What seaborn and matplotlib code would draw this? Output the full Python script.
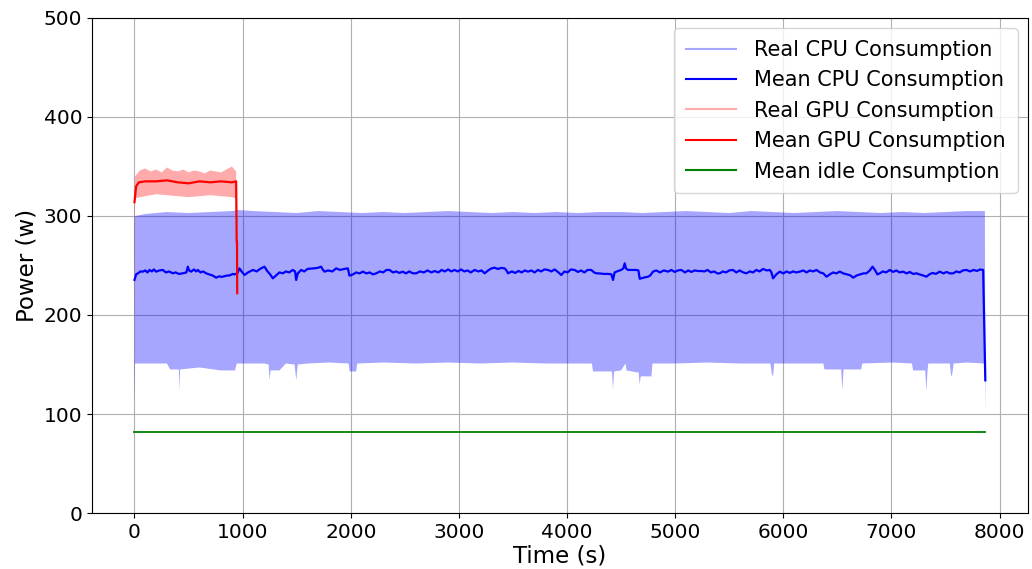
import numpy as np
import pandas as pd
import matplotlib
matplotlib.use("Agg")
import matplotlib.pyplot as plt
from matplotlib.lines import Line2D
import seaborn as sns

# ---- data ----
# Real CPU consumption envelope (upper edge / lower edge of the dense oscillation)
cpu_up_t = [0, 5, 100, 300, 500, 700, 900, 960, 1100, 1300, 1500, 1700, 1900, 2100, 2300,
            2500, 2700, 2900, 3100, 3300, 3500, 3700, 3900, 4100, 4300, 4500, 4700, 4900,
            5100, 5300, 5500, 5700, 5900, 6100, 6300, 6500, 6700, 6900, 7100, 7300, 7500,
            7700, 7864, 7867]
cpu_up_v = [300, 300, 302, 304, 303, 304, 305, 306, 305, 304, 303, 305, 304, 303, 304,
            303, 304, 305, 304, 303, 304, 303, 304, 303, 304, 304, 303, 304,
            305, 304, 303, 305, 304, 303, 304, 305, 304, 303, 304, 303, 304,
            305, 305, 180]
cpu_lo_t = [0, 5, 100, 200, 300, 330, 400, 410, 416, 422, 600, 800, 930, 945, 1000, 1100,
            1200, 1240, 1249, 1258, 1340, 1400, 1480, 1496, 1510, 1600, 1800, 1980, 1989,
            2050, 2060, 2300, 2600, 2900, 3200, 3500, 3800, 4100, 4230, 4240, 4415, 4425,
            4435, 4500, 4540, 4550, 4650, 4662, 4671, 4682, 4733, 4780, 4790, 5000, 5300,
            5600, 5880, 5895, 5905, 5915, 6100, 6370, 6380, 6535, 6546, 6557, 6720, 6730,
            7000, 7190, 7200, 7312, 7323, 7334, 7340, 7540, 7550, 7555, 7562, 7575, 7700,
            7862, 7869]
cpu_lo_v = [107, 151, 151, 151, 151, 145, 145, 145, 124, 145, 147, 144, 144, 151, 151, 151,
            151, 150, 134, 144, 144, 151, 150, 134, 150, 151, 152, 151, 143,
            143, 151, 152, 151, 152, 151, 152, 151, 151, 151, 143, 143, 125,
            143, 144, 151, 144, 142, 142, 130, 138, 138, 138, 151, 151, 152,
            151, 151, 140, 138, 151, 151, 151, 145, 145, 124, 145, 145, 151,
            152, 151, 144, 144, 123, 144, 151, 151, 140, 138, 140, 151, 152,
            151, 100]

# Mean CPU consumption
cpu_mean_t = [0, 15, 31, 55, 77, 100, 120, 139, 160, 180, 200, 230, 262, 290, 320, 355, 380,
              410, 447, 480, 493, 505, 524, 550, 570, 586, 610, 635, 663, 690, 720, 756, 780,
              810, 848, 880, 910, 925, 950, 971, 990, 1018, 1050, 1095, 1130, 1160, 1202,
              1230, 1255, 1279, 1310, 1340, 1372, 1400, 1430, 1464, 1485, 1495, 1510, 1541,
              1570, 1600, 1649, 1690, 1726, 1740, 1757, 1790, 1830, 1865, 1900, 1940, 1973,
              1988, 2020, 2050, 2080, 2112, 2145, 2175, 2205, 2235, 2270, 2300, 2330, 2358,
              2390, 2420, 2450, 2481, 2510, 2540, 2575, 2604, 2640, 2675, 2710, 2745, 2775,
              2810, 2840, 2870, 2900, 2930, 2960, 2990, 3020, 3050, 3080, 3110, 3145, 3180,
              3210, 3238, 3270, 3300, 3330, 3360, 3390, 3423, 3440, 3454, 3490, 3520, 3550,
              3580, 3610, 3639, 3670, 3700, 3730, 3760, 3790, 3824, 3855, 3885, 3915, 3947,
              3975, 4005, 4035, 4070, 4100, 4130, 4160, 4190, 4224, 4250, 4271, 4300, 4340,
              4380, 4410, 4425, 4440, 4471, 4500, 4520, 4533, 4545, 4564, 4600, 4641, 4660,
              4672, 4700, 4749, 4770, 4795, 4825, 4860, 4895, 4934, 4965, 4995, 5025, 5057,
              5090, 5120, 5150, 5180, 5212, 5242, 5270, 5300, 5330, 5360, 5390, 5412, 5440,
              5470, 5500, 5535, 5565, 5595, 5630, 5659, 5690, 5720, 5750, 5780, 5813, 5845,
              5875, 5890, 5905, 5935, 5967, 6000, 6030, 6060, 6090, 6120, 6152, 6185, 6215,
              6245, 6275, 6306, 6340, 6370, 6399, 6430, 6460, 6490, 6522, 6555, 6590, 6620,
              6646, 6680, 6710, 6740, 6769, 6800, 6825, 6850, 6870, 6892, 6920, 6950, 6985,
              7015, 7045, 7075, 7108, 7140, 7170, 7200, 7231, 7260, 7290, 7324, 7350, 7380,
              7410, 7447, 7480, 7510, 7540, 7571, 7600, 7630, 7660, 7694, 7725, 7760, 7790,
              7820, 7848, 7860, 7868]
cpu_mean_v = [235.5, 241, 242, 244, 243.8, 245, 243, 245.5, 244, 246, 243.8, 245, 245.5, 243,
              244, 242.1, 243, 241.5, 242.1, 243, 248.8, 245, 243.8, 246, 244, 245.5, 243,
              244, 242.1, 241, 240, 237.7, 239, 238.5, 239.7, 240, 241.5, 241, 242, 247.1,
              244, 240.4, 243, 245.5, 244, 246.5, 248.8, 244, 241, 237, 240, 243, 242.1, 244,
              243, 245.5, 244, 235.4, 242, 245.5, 244, 246.5, 247.1, 247.5, 248.8, 246,
              243.8, 245, 244, 247.1, 245.5, 246.5, 247.1, 239.7, 241, 243, 242, 243.8, 242,
              243, 241, 242.1, 244, 243, 245.5, 245.5, 243, 244, 242.5, 243.8, 242, 244,
              242.1, 242.1, 244, 243, 245, 243, 244.4, 243, 245.5, 244, 246, 244, 245.5,
              244, 246, 244, 245, 243, 245.5, 244, 245, 242.1, 245, 247, 247.8, 246.5,
              247.5, 247.1, 245, 242.1, 244, 242.5, 244.5, 243, 245, 243.8, 245, 243,
              245.5, 244, 246, 245.5, 244, 246, 243.5, 240.4, 244, 243, 246, 245.5, 243.5,
              245, 243, 245.5, 245.5, 243, 242.1, 242, 241.5, 241.5, 241.1, 235.4, 243,
              244.4, 245.5, 247, 252.2, 247, 245.5, 245.5, 245.5, 245, 236.6, 237.5, 238.7,
              240, 243.8, 245, 243, 245, 243.8, 245.5, 243.5, 245, 245.5, 243, 245, 243.5,
              245, 244.4, 244.4, 244, 245.5, 243, 244, 242, 242.1, 244, 243, 245, 245.5,
              243, 245, 243, 242.1, 244, 243, 245.5, 244, 246.5, 245, 245.5, 243, 237, 241,
              243.8, 242, 244, 242.5, 244, 243, 243.8, 245, 243, 245, 244, 245.5, 243, 242,
              238.7, 241, 243, 242, 243.8, 242, 241, 240, 237.7, 240, 241, 242, 242.1, 245,
              248.8, 245, 241, 242.1, 244, 243, 245.5, 243.5, 245, 243, 243.8, 242, 243.5,
              241.5, 242.1, 241, 240, 238.7, 241, 242.5, 241.5, 243.8, 242, 243.5, 242,
              242.1, 244, 243, 245, 245.5, 244, 245.5, 244.5, 246, 245.5, 178, 134]

# Real GPU consumption envelope
gpu_up_t = [0, 5, 50, 100, 150, 200, 250, 300, 350, 400, 450, 500, 550, 600, 650, 700,
            750, 800, 850, 900, 940, 945]
gpu_up_v = [316, 340, 346, 348, 345, 347, 344, 349, 346, 345, 347, 344, 346, 345, 343, 346,
            345, 344, 347, 350, 345, 230]
gpu_lo_t = [0, 5, 100, 200, 300, 400, 500, 600, 700, 800, 900, 938, 947]
gpu_lo_v = [117, 318, 320, 322, 321, 320, 319, 320, 321, 320, 319, 318, 205]

# Mean GPU consumption
gpu_mean_t = [0, 15, 40, 100, 200, 300, 400, 500, 600, 700, 800, 900, 940, 945, 948, 950]
gpu_mean_v = [314, 330, 334, 335, 335, 336, 334, 333, 335, 334, 335, 334, 335, 274, 274, 222]

# Mean idle consumption
idle_t = [0, 7869]
idle_v = [82, 82]

x_ticks = [0, 1000, 2000, 3000, 4000, 5000, 6000, 7000, 8000]
y_ticks = [0, 100, 200, 300, 400, 500]

# ---- figure ----
fig = plt.figure(figsize=(10.32, 5.69), dpi=100)
ax = fig.add_axes([0.0891, 0.0984, 0.9070, 0.8700])
ax.grid(True, color="#b0b0b0", linewidth=0.8)
ax.set_axisbelow(True)

# Real CPU band
ax.fill(np.r_[cpu_up_t, cpu_lo_t[::-1]], np.r_[cpu_up_v, cpu_lo_v[::-1]],
        facecolor="blue", alpha=0.35, linewidth=0, zorder=2)

cpu_df = pd.DataFrame({"t": cpu_mean_t, "v": cpu_mean_v})
sns.lineplot(data=cpu_df, x="t", y="v", ax=ax, color="blue", linewidth=1.6,
             estimator=None, sort=False, zorder=3)

# Real GPU band
ax.fill(np.r_[gpu_up_t, gpu_lo_t[::-1]], np.r_[gpu_up_v, gpu_lo_v[::-1]],
        facecolor="red", alpha=0.33, linewidth=0, zorder=4)

gpu_df = pd.DataFrame({"t": gpu_mean_t, "v": gpu_mean_v})
sns.lineplot(data=gpu_df, x="t", y="v", ax=ax, color="red", linewidth=1.6,
             estimator=None, sort=False, zorder=5)

idle_df = pd.DataFrame({"t": idle_t, "v": idle_v})
sns.lineplot(data=idle_df, x="t", y="v", ax=ax, color="green", linewidth=1.3,
             estimator=None, sort=False, zorder=5)

ax.set_ylim(0, 500)
ax.set_xticks(x_ticks)
ax.set_yticks(y_ticks)
ax.tick_params(labelsize=14.5)
ax.set_xlabel("Time (s)", fontsize=16.5, labelpad=2)
ax.set_ylabel("Power (w)", fontsize=16.5)

handles = [
    Line2D([], [], color="blue", alpha=0.35, linewidth=1.5),
    Line2D([], [], color="blue", linewidth=1.5),
    Line2D([], [], color="red", alpha=0.33, linewidth=1.5),
    Line2D([], [], color="red", linewidth=1.5),
    Line2D([], [], color="green", linewidth=1.5),
]
labels = ["Real CPU Consumption", "Mean CPU Consumption", "Real GPU Consumption",
          "Mean GPU Consumption", "Mean idle Consumption"]
ax.legend(handles, labels, loc="upper right", fontsize=15, labelspacing=0.5,
          handlelength=2.4, handletextpad=0.9, borderpad=0.55)

fig.savefig("out.png", dpi=100)
